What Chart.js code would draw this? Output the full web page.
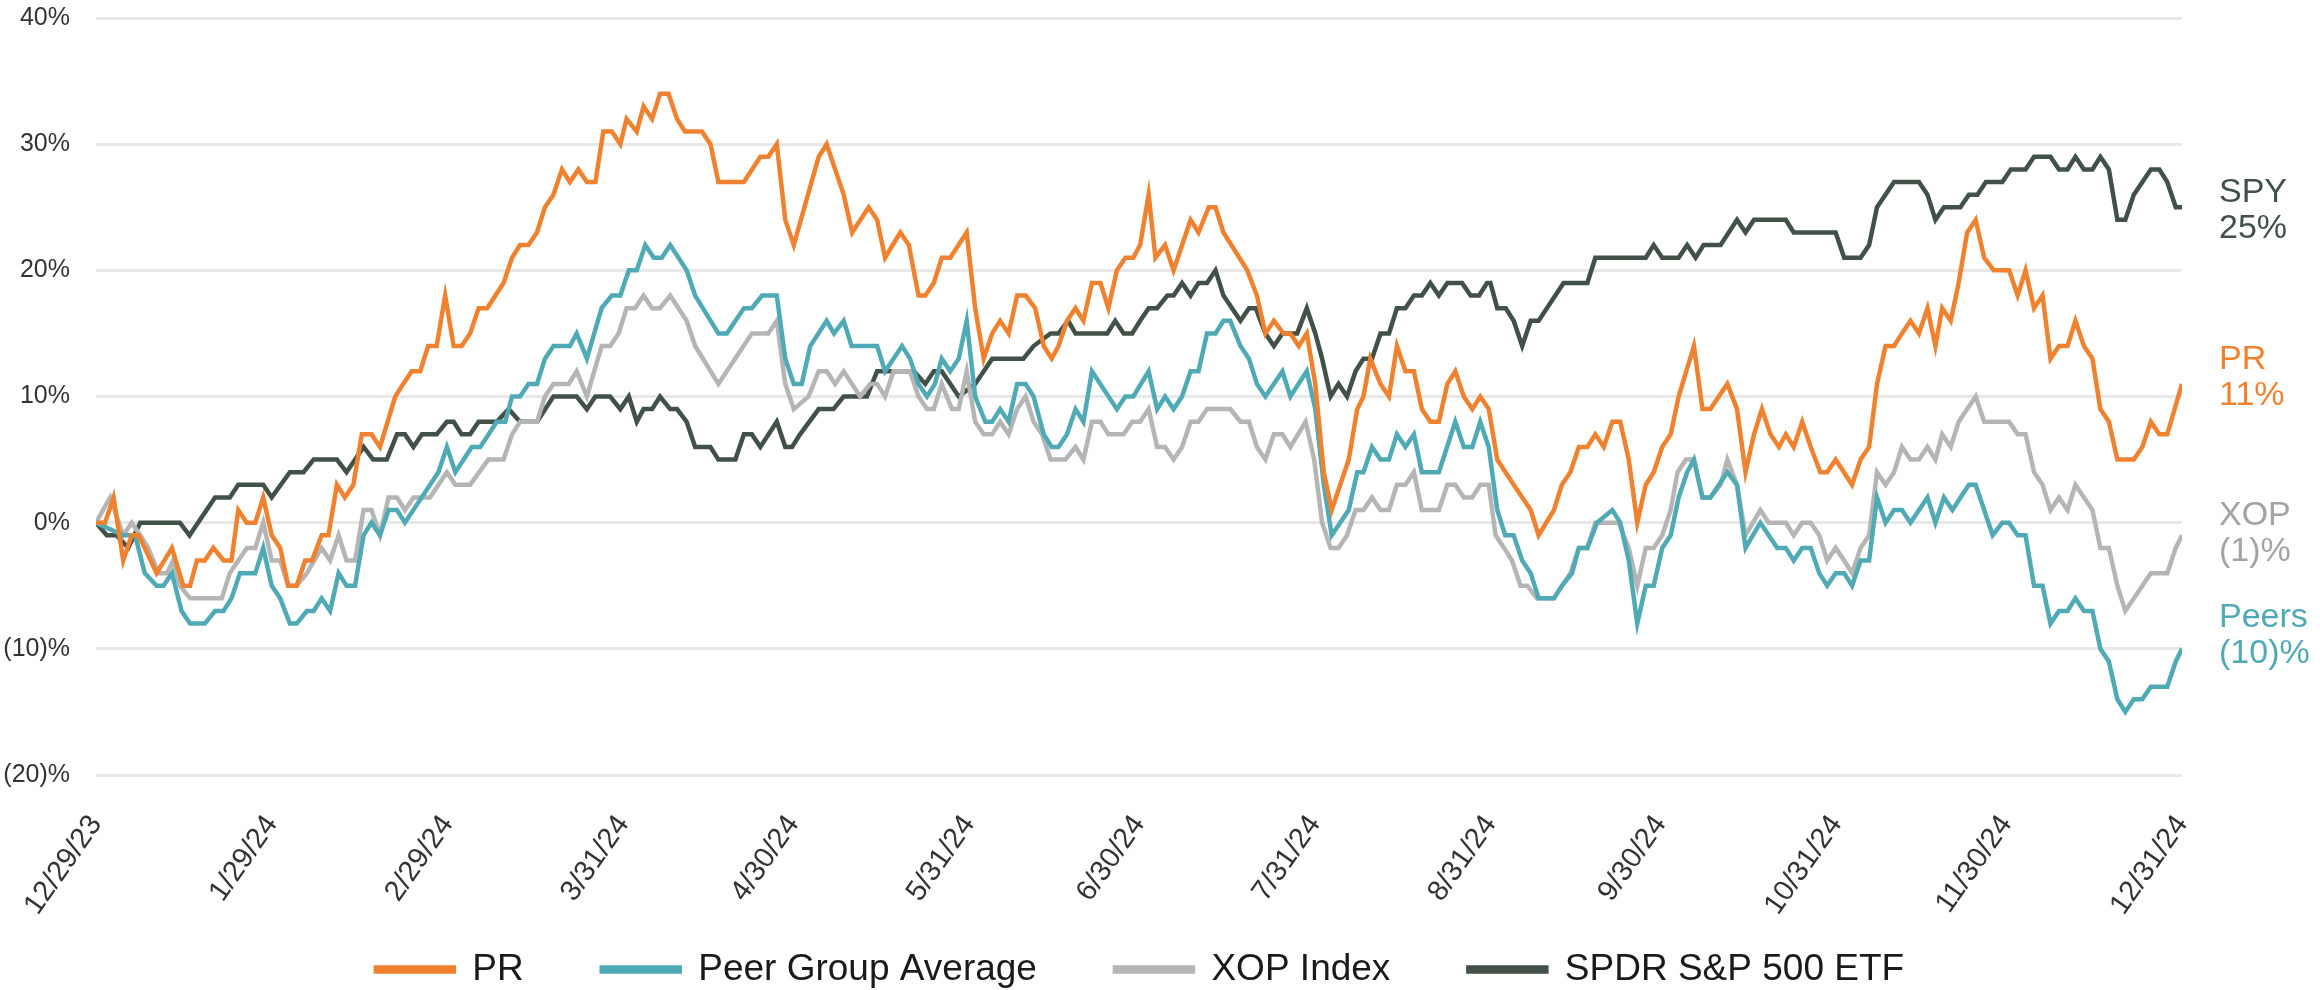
<!DOCTYPE html>
<html>
<head>
<meta charset="utf-8">
<script src="https://cdn.jsdelivr.net/npm/chart.js@4.4.1/dist/chart.umd.min.js"></script>
<style>
  html, body { margin: 0; padding: 0; background: #fff; }
  #wrap { width: 2320px; height: 990px; }
</style>
</head>
<body>
<div id="wrap"><canvas id="perfChart" width="2320" height="990"></canvas></div>
<script>
// [calendar days after 12/29/23, cumulative return %]
const prSeries = [
  [0, 0], [1.6, 0], [3.1, 2], [4.8, -3], [6.3, -1], [7.5, -1], [8.6, -2], [10.7, -4], [13.4, -2], [15.4, -5],
  [16.6, -5], [17.8, -3], [19.2, -3], [20.7, -2], [22.5, -3], [23.9, -3], [25.1, 1], [26.6, 0], [28.1, 0], [29.5, 2],
  [31.0, -1], [32.5, -2], [33.9, -5], [35.4, -5], [36.9, -3], [38.1, -3], [39.8, -1], [41.0, -1], [42.5, 3], [43.9, 2],
  [45.4, 3], [46.9, 7], [48.6, 7], [50.1, 6], [52.8, 10], [54.2, 11], [55.7, 12], [57.2, 12], [58.6, 14], [60.1, 14],
  [61.6, 18], [63.1, 14], [64.5, 14], [66.0, 15], [67.5, 17], [69.0, 17], [71.9, 19], [73.4, 21], [74.8, 22], [76.3, 22],
  [77.8, 23], [79.2, 25], [80.7, 26], [82.2, 28], [83.6, 27], [85.1, 28], [86.6, 27], [88.1, 27], [89.5, 31], [91.0, 31],
  [92.5, 30], [93.6, 32], [95.4, 31], [96.6, 33], [98.1, 32], [99.5, 34], [101.0, 34], [102.5, 32], [103.9, 31], [106.9, 31],
  [108.4, 30], [109.8, 27], [114.3, 27], [117.2, 29], [118.6, 29], [120.1, 30], [121.6, 24], [123.1, 22], [125.6, 26], [127.5, 29],
  [128.9, 30], [131.9, 26], [133.4, 23], [136.3, 25], [137.8, 24], [139.2, 21], [141.9, 23], [143.4, 22], [145.1, 18], [146.3, 18],
  [147.8, 19], [149.2, 21], [150.7, 21], [153.6, 23], [155.1, 17], [156.6, 13], [158.1, 15], [159.5, 16], [161.0, 15], [162.5, 18],
  [164.0, 18], [165.7, 17], [167.2, 14], [168.6, 13], [169.8, 14], [171.3, 16], [172.8, 17], [174.2, 16], [175.7, 19], [177.2, 19],
  [178.6, 17], [180.1, 20], [181.6, 21], [183.0, 21], [184.2, 22], [185.7, 26], [186.9, 21], [188.6, 22], [190.1, 20], [193.1, 24],
  [194.5, 23], [196.3, 25], [197.5, 25], [198.9, 23], [203.1, 20], [204.8, 18], [206.3, 15], [207.8, 16], [209.5, 15], [210.7, 15],
  [212.2, 14], [213.6, 15], [215.1, 11], [216.6, 4], [218.0, 1], [221.0, 5], [222.5, 9], [223.6, 10], [224.8, 13], [226.6, 11],
  [228.1, 10], [229.5, 14], [231.0, 12], [232.5, 12], [233.9, 9], [235.4, 8], [236.9, 8], [238.4, 11], [239.8, 12], [241.3, 10],
  [242.8, 9], [244.2, 10], [245.7, 9], [247.2, 5], [250.1, 3], [253.1, 1], [254.5, -1], [257.2, 1], [258.6, 3], [260.1, 4],
  [261.6, 6], [263.1, 6], [264.5, 7], [266.0, 6], [267.5, 8], [268.9, 8], [270.4, 5], [271.9, 0], [273.4, 3], [274.8, 4],
  [276.3, 6], [277.8, 7], [279.2, 10], [281.9, 14], [283.4, 9], [284.8, 9], [287.8, 11], [289.5, 9], [291.0, 4], [292.5, 7],
  [293.9, 9], [295.4, 7], [296.9, 6], [298.1, 7], [299.5, 6], [301.0, 8], [302.5, 6], [304.2, 4], [305.4, 4], [306.9, 5],
  [309.8, 3], [311.3, 5], [312.8, 6], [314.2, 11], [315.7, 14], [317.2, 14], [318.6, 15], [320.1, 16], [321.6, 15], [323.1, 17],
  [324.5, 14], [325.7, 17], [327.2, 16], [328.6, 19], [330.1, 23], [331.6, 24], [333.1, 21], [334.8, 20], [337.5, 20], [339.0, 18],
  [340.4, 20], [341.9, 17], [343.4, 18], [344.8, 13], [346.3, 14], [347.8, 14], [349.2, 16], [350.7, 14], [352.2, 13], [353.6, 9],
  [355.1, 8], [356.6, 5], [359.5, 5], [361.0, 6], [362.5, 8], [364.0, 7], [365.4, 7], [368, 11]
];

const peerSeries = [
  [0, 0], [4.8, -1], [6.9, -1], [8.6, -4], [10.7, -5], [11.9, -5], [13.4, -4], [15.1, -7], [16.6, -8], [19.2, -8],
  [21.0, -7], [22.5, -7], [23.9, -6], [25.4, -4], [28.1, -4], [29.5, -2], [31.0, -5], [32.5, -6], [34.2, -8], [35.4, -8],
  [37.2, -7], [38.4, -7], [39.8, -6], [41.3, -7], [42.8, -4], [44.2, -5], [45.7, -5], [47.2, -1], [48.6, 0], [50.1, -1],
  [51.6, 1], [53.1, 1], [54.5, 0], [60.4, 4], [61.9, 6], [63.4, 4], [66.3, 6], [67.8, 6], [70.7, 8], [72.2, 8],
  [73.4, 10], [74.8, 10], [76.3, 11], [77.8, 11], [79.2, 13], [80.7, 14], [83.6, 14], [84.8, 15], [86.6, 13], [89.2, 17],
  [91.0, 18], [92.5, 18], [94.0, 20], [95.4, 20], [96.9, 22], [98.4, 21], [99.8, 21], [101.3, 22], [104.2, 20], [105.7, 18],
  [109.8, 15], [111.3, 15], [114.3, 17], [115.7, 17], [117.5, 18], [120.1, 18], [121.6, 13], [123.1, 11], [124.5, 11], [126.0, 14],
  [128.9, 16], [130.2, 15], [131.9, 16], [133.3, 14], [137.8, 14], [139.2, 12], [142.2, 14], [143.6, 13], [145.1, 11], [146.6, 10],
  [148.0, 11], [149.2, 13], [150.7, 12], [152.2, 13], [153.6, 16], [155.1, 10], [156.9, 8], [158.1, 8], [159.5, 9], [161.0, 8],
  [162.5, 11], [164.0, 11], [165.4, 10], [167.2, 7], [168.6, 6], [169.8, 6], [171.3, 7], [172.8, 9], [174.2, 8], [175.7, 12],
  [180.1, 9], [181.6, 10], [183.0, 10], [185.7, 12], [187.2, 9], [188.6, 10], [190.1, 9], [191.6, 10], [193.1, 12], [194.5, 12],
  [196.0, 15], [197.5, 15], [198.9, 16], [200.1, 16], [201.9, 14], [203.4, 13], [204.8, 11], [206.3, 10], [209.3, 12], [210.7, 10],
  [213.6, 12], [215.1, 9], [216.6, 3], [218.0, -1], [221.0, 1], [222.5, 4], [223.6, 4], [225.1, 6], [226.6, 5], [228.1, 5],
  [229.5, 7], [231.0, 6], [232.5, 7], [233.9, 4], [236.9, 4], [239.8, 8], [241.3, 6], [242.8, 6], [244.2, 8], [245.7, 6],
  [247.2, 1], [248.6, -1], [250.1, -1], [251.6, -3], [253.1, -4], [254.5, -6], [257.2, -6], [258.6, -5], [260.4, -4], [261.6, -2],
  [263.1, -2], [264.8, 0], [267.5, 1], [268.9, 0], [270.4, -3], [271.9, -8], [273.4, -5], [274.8, -5], [276.3, -2], [277.8, -1],
  [279.2, 2], [280.7, 4], [281.9, 5], [283.4, 2], [284.8, 2], [287.8, 4], [289.5, 3], [291.0, -2], [293.6, 0], [296.6, -2],
  [298.1, -2], [299.5, -3], [301.0, -2], [302.5, -2], [304.0, -4], [305.4, -5], [306.9, -4], [308.4, -4], [309.8, -5], [311.3, -3],
  [312.8, -3], [314.2, 2], [315.7, 0], [317.2, 1], [318.6, 1], [320.1, 0], [323.1, 2], [324.5, 0], [326.0, 2], [327.5, 1],
  [330.4, 3], [331.6, 3], [334.6, -1], [336.3, 0], [337.5, 0], [339.0, -1], [340.4, -1], [341.9, -5], [343.4, -5], [344.8, -8],
  [346.3, -7], [347.8, -7], [349.2, -6], [350.7, -7], [352.2, -7], [353.6, -10], [355.1, -11], [356.6, -14], [358.0, -15], [359.5, -14],
  [361.0, -14], [362.5, -13], [365.4, -13], [366.9, -11], [368, -10]
];

const xopSeries = [
  [0, 0], [2.5, 2], [4.8, -1], [6.3, 0], [7.8, -1], [9.2, -2], [11.0, -4], [12.5, -4], [13.6, -3], [14.8, -5],
  [16.6, -6], [22.2, -6], [23.6, -4], [26.6, -2], [28.1, -2], [29.5, 0], [31.0, -3], [32.5, -3], [33.9, -5], [35.4, -5],
  [37.2, -4], [39.8, -2], [41.3, -3], [42.8, -1], [44.2, -3], [45.7, -3], [47.2, 1], [48.6, 1], [50.1, -1], [51.6, 2],
  [53.1, 2], [54.5, 1], [56.0, 2], [58.9, 2], [61.9, 4], [63.4, 3], [66.0, 3], [69.2, 5], [71.9, 5], [73.4, 7],
  [74.8, 8], [77.8, 8], [79.2, 10], [80.7, 11], [83.4, 11], [84.8, 12], [86.6, 10], [89.2, 14], [90.7, 14], [92.2, 15],
  [93.6, 17], [95.1, 17], [96.6, 18], [98.1, 17], [99.5, 17], [101.3, 18], [104.2, 16], [105.7, 14], [109.8, 11], [115.7, 15],
  [118.6, 15], [120.1, 16], [121.6, 11], [123.1, 9], [125.7, 10], [127.5, 12], [128.9, 12], [130.4, 11], [131.9, 12], [134.8, 10],
  [136.6, 11], [137.8, 11], [139.2, 10], [140.7, 12], [143.6, 12], [145.1, 10], [146.6, 9], [147.8, 9], [149.2, 11], [151.0, 9],
  [152.2, 9], [153.6, 12], [155.1, 8], [156.6, 7], [158.1, 7], [159.5, 8], [161.0, 7], [162.5, 9], [164.0, 10], [165.4, 8],
  [166.9, 7], [168.4, 5], [171.0, 5], [172.8, 6], [174.2, 5], [175.7, 8], [177.2, 8], [178.6, 7], [181.3, 7], [182.8, 8],
  [184.2, 8], [185.7, 9], [187.2, 6], [188.6, 6], [190.1, 5], [191.6, 6], [193.1, 8], [194.5, 8], [196.0, 9], [200.1, 9],
  [201.9, 8], [203.4, 8], [204.8, 6], [206.3, 5], [207.8, 7], [209.3, 7], [210.7, 6], [213.4, 8], [214.9, 5], [216.3, 0],
  [217.8, -2], [219.2, -2], [220.7, -1], [222.2, 1], [223.6, 1], [225.1, 2], [226.6, 1], [228.1, 1], [229.5, 3], [231.0, 3],
  [232.5, 4], [233.9, 1], [236.9, 1], [238.4, 3], [239.8, 3], [241.3, 2], [242.8, 2], [244.2, 3], [245.7, 3], [246.9, -1],
  [248.4, -2], [249.8, -3], [251.3, -5], [252.5, -5], [254.2, -6], [257.2, -6], [260.1, -4], [261.6, -2], [263.1, -2], [264.5, 0],
  [268.6, 0], [270.4, -2], [271.9, -5], [273.4, -2], [274.8, -2], [276.3, -1], [277.8, 1], [279.0, 4], [280.5, 5], [281.9, 5],
  [283.4, 2], [284.8, 2], [286.6, 3], [287.8, 5], [289.5, 3], [291.0, -1], [293.6, 1], [295.1, 0], [298.1, 0], [299.5, -1],
  [301.0, 0], [302.5, 0], [304.0, -1], [305.4, -3], [306.9, -2], [308.4, -3], [309.8, -4], [311.3, -2], [312.8, -1], [314.2, 4],
  [315.7, 3], [317.2, 4], [318.6, 6], [320.1, 5], [321.6, 5], [323.1, 6], [324.5, 5], [325.7, 7], [327.2, 6], [328.6, 8],
  [331.6, 10], [333.1, 8], [337.5, 8], [339.0, 7], [340.4, 7], [341.9, 4], [343.4, 3], [344.8, 1], [346.3, 2], [347.8, 1],
  [349.2, 3], [352.2, 1], [353.6, -2], [355.1, -2], [356.6, -5], [358.0, -7], [362.5, -4], [365.4, -4], [366.9, -2], [368, -1]
];

const spySeries = [
  [0, 0], [1.9, -1], [3.6, -1], [5.7, -2], [7.8, 0], [14.8, 0], [16.5, -1], [21.0, 2], [23.6, 2], [25.1, 3],
  [29.5, 3], [31.0, 2], [34.2, 4], [36.6, 4], [38.4, 5], [42.5, 5], [44.2, 4], [47.2, 6], [48.9, 5], [51.3, 5],
  [53.1, 7], [54.5, 7], [56.0, 6], [57.5, 7], [60.1, 7], [61.9, 8], [63.1, 8], [64.5, 7], [66.0, 7], [67.5, 8],
  [70.7, 8], [72.8, 9], [74.8, 8], [77.8, 8], [80.7, 10], [84.8, 10], [86.6, 9], [88.1, 10], [90.7, 10], [92.5, 9],
  [94.0, 10], [95.4, 8], [96.6, 9], [98.1, 9], [99.5, 10], [101.3, 9], [102.5, 9], [104.2, 8], [105.7, 6], [108.4, 6],
  [109.8, 5], [112.8, 5], [114.3, 7], [115.7, 7], [117.2, 6], [120.1, 8], [121.6, 6], [122.8, 6], [124.2, 7], [127.5, 9],
  [130.1, 9], [131.9, 10], [136.0, 10], [137.8, 12], [144.3, 12], [146.3, 11], [147.8, 12], [149.2, 12], [152.2, 10], [155.1, 11],
  [158.1, 13], [163.6, 13], [165.4, 14], [168.4, 15], [169.8, 15], [171.5, 16], [172.8, 15], [178.4, 15], [179.8, 16], [181.3, 15],
  [182.8, 15], [184.2, 16], [185.7, 17], [187.2, 17], [189.0, 18], [190.1, 18], [191.6, 19], [193.1, 18], [194.5, 19], [196.0, 19],
  [197.5, 20], [198.9, 18], [201.9, 16], [203.4, 17], [204.6, 17], [206.3, 15], [207.8, 14], [209.3, 15], [211.9, 15], [213.6, 17],
  [215.1, 15], [216.3, 13], [217.8, 10], [219.2, 11], [220.7, 10], [222.2, 12], [223.6, 13], [225.1, 13], [226.6, 15], [228.1, 15],
  [229.5, 17], [231.0, 17], [232.5, 18], [233.9, 18], [235.4, 19], [236.9, 18], [238.4, 19], [241.0, 19], [242.5, 18], [244.0, 18],
  [245.4, 19], [246.0, 19], [247.2, 17], [248.7, 17], [250.1, 16], [251.6, 14], [253.1, 16], [254.5, 16], [258.9, 19], [263.1, 19],
  [264.5, 21], [273.4, 21], [274.8, 22], [276.3, 21], [279.2, 21], [280.7, 22], [282.2, 21], [283.6, 22], [286.6, 22], [289.5, 24],
  [291.0, 23], [292.5, 24], [298.1, 24], [299.5, 23], [306.9, 23], [308.4, 21], [311.3, 21], [312.8, 22], [314.2, 25], [317.2, 27],
  [321.6, 27], [323.1, 26], [324.5, 24], [326.0, 25], [328.9, 25], [330.4, 26], [331.9, 26], [333.4, 27], [336.3, 27], [337.8, 28],
  [340.4, 28], [341.9, 29], [344.8, 29], [346.3, 28], [347.8, 28], [349.2, 29], [350.7, 28], [352.2, 28], [353.6, 29], [355.1, 28],
  [356.6, 24], [358.0, 24], [359.5, 26], [362.5, 28], [364.0, 28], [365.4, 27], [366.9, 25], [368, 25]
];

const tickDays = [0, 31, 62, 93, 123, 154, 184, 215, 246, 276, 307, 337, 368];
const tickLabels = ["12/29/23", "1/29/24", "2/29/24", "3/31/24", "4/30/24", "5/31/24",
  "6/30/24", "7/31/24", "8/31/24", "9/30/24", "10/31/24", "11/30/24", "12/31/24"];

const seriesNames = ["PR", "Peer Group Average", "XOP Index", "SPDR S&P 500 ETF"];
const endNames = ["PR", "Peers", "XOP", "SPY"];
const lineColors = ["#F0822F", "#4FAAB5", "#B5B5B5", "#425148"];
const endColors = ["#F0822F", "#4FAAB5", "#A3A3A3", "#425148"];
const endShift = [-6, -13, -2, 3];

const FONT = "'Liberation Sans', Arial, sans-serif";

function pct(v) {
  return v < 0 ? "(" + (-v) + ")%" : v + "%";
}

const endLabels = {
  id: "endLabels",
  afterLayout(chart) {
    // rotated date labels run below the axis box, don't let them get clipped
    chart.scales.x.bottom = chart.height;
  },
  afterDatasetsDraw(chart) {
    const { ctx, chartArea, scales } = chart;
    ctx.save();
    ctx.font = "34px " + FONT;
    ctx.textAlign = "left";
    ctx.textBaseline = "middle";
    chart.data.datasets.forEach((ds, i) => {
      const last = ds.data[ds.data.length - 1].y;
      const y = scales.y.getPixelForValue(last) + endShift[i];
      ctx.fillStyle = endColors[i];
      ctx.fillText(endNames[i], chartArea.right + 37, y - 18);
      ctx.fillText(pct(last), chartArea.right + 37, y + 18);
    });
    ctx.restore();
  }
};

const allSeries = [prSeries, peerSeries, xopSeries, spySeries];

new Chart(document.getElementById("perfChart"), {
  type: "line",
  data: {
    datasets: allSeries.map((pts, i) => ({
      label: seriesNames[i],
      data: pts.map(p => ({ x: p[0], y: p[1] })),
      borderColor: lineColors[i],
      backgroundColor: lineColors[i],
      borderWidth: 4.5,
      pointRadius: 0,
      tension: 0,
      fill: false
    }))
  },
  options: {
    responsive: false,
    devicePixelRatio: 1,
    animation: false,
    layout: { padding: { left: 0, right: 40, top: 0, bottom: -8 } },
    plugins: {
      tooltip: { enabled: false },
      legend: {
        position: "bottom",
        labels: {
          font: { family: FONT, size: 37 },
          color: "#1a1a1a",
          boxWidth: 78,
          boxHeight: 4,
          padding: 78
        }
      }
    },
    scales: {
      x: {
        type: "linear",
        min: 0,
        max: 368,
        grid: { display: false },
        border: { display: false },
        afterBuildTicks(scale) {
          scale.ticks = tickDays.map(d => ({ value: d }));
        },
        afterFit(scale) { scale.height = 98; },
        ticks: {
          autoSkip: false,
          maxRotation: 55,
          minRotation: 55,
          padding: 26,
          color: "#333",
          font: { family: FONT, size: 29 },
          callback(value) {
            const k = tickDays.indexOf(value);
            return k >= 0 ? tickLabels[k] : "";
          }
        }
      },
      y: {
        min: -20,
        max: 40,
        border: { display: false },
        grid: { color: "#E8E8E8", lineWidth: 3, drawTicks: true, tickLength: 23, tickColor: "rgba(0,0,0,0)" },
        afterFit(scale) { scale.width = 96; },
        ticks: {
          stepSize: 10,
          padding: 3,
          color: "#333",
          font: { family: FONT, size: 25 },
          callback: v => pct(v)
        }
      },
      yEnd: {
        position: "right",
        min: -20,
        max: 40,
        grid: { display: false },
        border: { display: false },
        ticks: { display: false },
        afterFit(scale) { scale.width = 98; }
      }
    }
  },
  plugins: [endLabels]
});
</script>
</body>
</html>
